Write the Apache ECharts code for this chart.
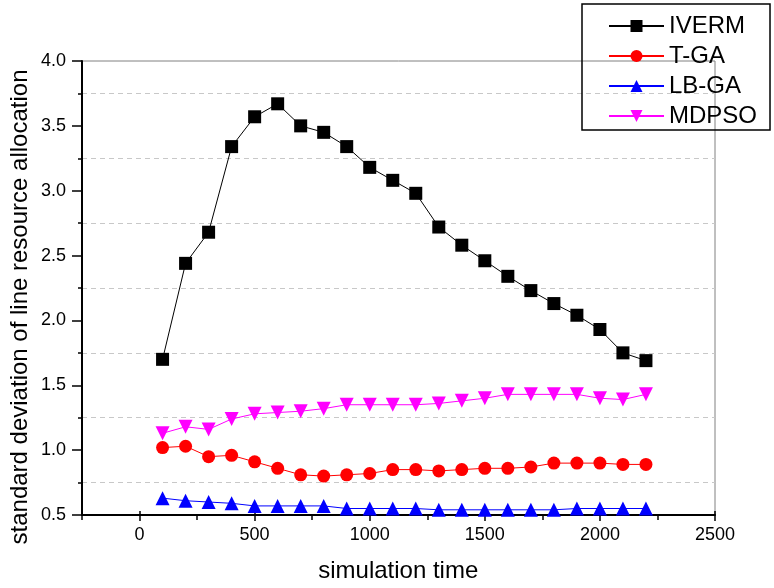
<!DOCTYPE html>
<html>
<head>
<meta charset="utf-8">
<script src="https://cdn.jsdelivr.net/npm/echarts@6/dist/echarts.min.js"></script>
<style>html,body{margin:0;padding:0;background:#fff}#c{width:774px;height:588px}</style>
</head>
<body>
<div id="c"></div>
<script>
var times = [100,200,300,400,500,600,700,800,900,1000,1100,1200,1300,1400,1500,1600,1700,1800,1900,2000,2100,2200];
var iverm = [1.70,2.44,2.68,3.34,3.57,3.67,3.50,3.45,3.34,3.18,3.08,2.98,2.72,2.58,2.46,2.34,2.23,2.13,2.04,1.93,1.75,1.69];
var tga = [1.02,1.03,0.95,0.96,0.91,0.86,0.81,0.80,0.81,0.82,0.85,0.85,0.84,0.85,0.86,0.86,0.87,0.90,0.90,0.90,0.89,0.89];
var lbga = [0.63,0.61,0.60,0.59,0.57,0.57,0.57,0.57,0.55,0.55,0.55,0.55,0.54,0.54,0.54,0.54,0.54,0.54,0.55,0.55,0.55,0.55];
var mdpso = [1.13,1.18,1.16,1.24,1.28,1.29,1.30,1.32,1.35,1.35,1.35,1.35,1.36,1.38,1.40,1.43,1.43,1.43,1.43,1.40,1.39,1.43];
var xTickLabels = ['0','500','1000','1500','2000','2500'];
var yTickLabels = ['0.5','1.0','1.5','2.0','2.5','3.0','3.5','4.0'];

function pairs(v){ return times.map(function(t,i){ return [t, v[i]]; }); }
var font = 'Arial, "Liberation Sans", sans-serif';
var chart = echarts.init(document.getElementById('c'));
function mk(name, data, color, symbol, size){
  return {name:name, type:'line', data:pairs(data), symbol:symbol, symbolSize:size,
    xAxisIndex:0, yAxisIndex:0,
    itemStyle:{color:color}, lineStyle:{color:color, width:1}, animation:false};
}
chart.setOption({
  animation:false,
  grid:[
    {left:70, right:59, top:61, bottom:73, show:true, borderColor:'#808080', borderWidth:1},
    {left:139.5, right:59, top:61, bottom:60, show:false}
  ],
  legend:{
    orient:'vertical', left:582, top:4, padding:[10,13,2,26], itemGap:6,
    itemWidth:55, itemHeight:15, borderColor:'#000', borderWidth:1.5,
    textStyle:{fontFamily:font, fontSize:24, lineHeight:24, color:'#000'},
    data:['IVERM','T-GA','LB-GA','MDPSO']
  },
  xAxis:[{
    gridIndex:0, type:'value', min:-250, max:2500, interval:250,
    axisLine:{show:true, onZero:false, lineStyle:{color:'#000', width:2}},
    axisTick:{show:true, length:5, lineStyle:{color:'#000', width:1.5}},
    axisLabel:{show:false},
    splitLine:{show:false}
  },{
    gridIndex:1, type:'value', min:0, max:2500, interval:500,
    name:'simulation time', nameLocation:'middle', nameGap:55,
    nameTextStyle:{fontFamily:font, fontSize:24, lineHeight:10, color:'#000', padding:[0,58,0,0]},
    axisLine:{show:false, onZero:false},
    axisTick:{show:true, length:10, lineStyle:{color:'#000', width:1.5}},
    axisLabel:{show:true, fontFamily:font, fontSize:18, color:'#000', margin:15,
      formatter:function(v){ var s=String(v); return xTickLabels.indexOf(s)>=0 ? s : ''; }},
    splitLine:{show:false}
  }],
  yAxis:[{
    gridIndex:0, type:'value', min:0.5, max:4.0, interval:0.25,
    name:'standard deviation of line resource allocation', nameLocation:'middle', nameGap:56,
    nameTextStyle:{fontFamily:font, fontSize:24, lineHeight:12, color:'#000', padding:[0,38,0,0]},
    axisLine:{show:true, onZero:false, lineStyle:{color:'#000', width:2}},
    axisTick:{show:true, length:4, lineStyle:{color:'#000', width:1.5}},
    axisLabel:{show:false},
    splitLine:{show:true, lineStyle:{color:['rgba(0,0,0,0)','#c8c8c8'], type:[5,4], width:1}}
  },{
    gridIndex:0, type:'value', min:0.5, max:4.0, interval:0.5, position:'left', offset:0,
    axisLine:{show:false, onZero:false},
    axisTick:{show:true, length:10, lineStyle:{color:'#000', width:1.5}},
    axisLabel:{show:true, fontFamily:font, fontSize:18, color:'#000', margin:16,
      formatter:function(v){ var s=v.toFixed(1); return yTickLabels.indexOf(s)>=0 ? s : ''; }},
    splitLine:{show:false}
  },{
    gridIndex:1, type:'value', min:0.5, max:4.0, show:false
  }],
  series:[
    mk('IVERM', iverm, '#000000', 'rect', 13),
    mk('T-GA', tga, '#ff0000', 'circle', 13),
    mk('LB-GA', lbga, '#0000ff', 'triangle', 14),
    mk('MDPSO', mdpso, '#ff00ff', 'path://M0,0 L10,0 L5,9 Z', 14)
  ]
});
</script>
</body>
</html>
